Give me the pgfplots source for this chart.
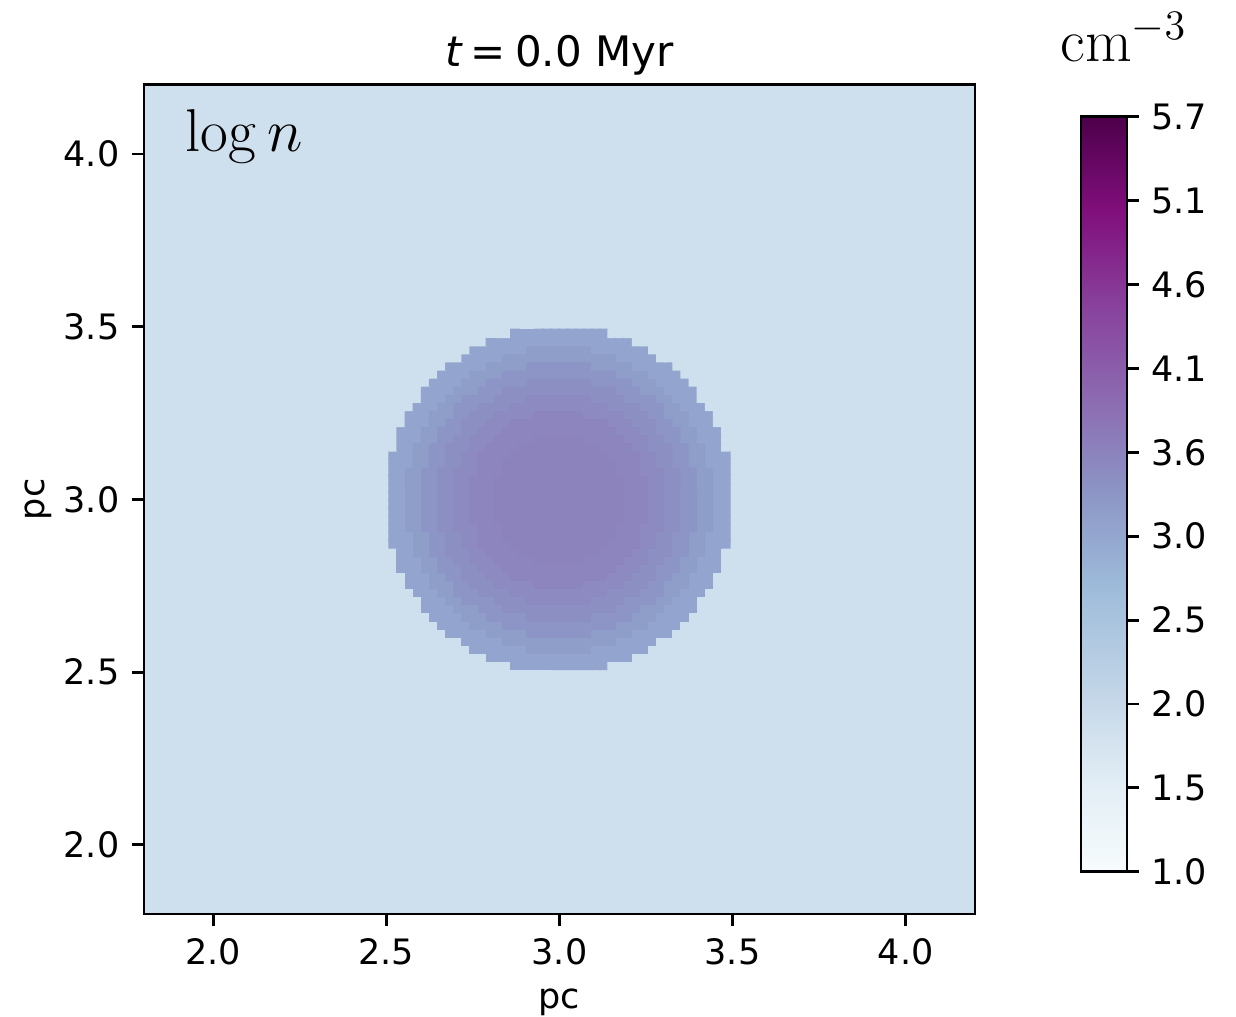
\documentclass[border=0pt]{standalone}
\usepackage[no-math]{fontspec}
\setmainfont{DejaVu Sans}
\usepackage{pgfplots}
\pgfplotsset{compat=1.18}
\begin{document}
\begin{tikzpicture}
\begin{axis}[
  name=main,
  scale only axis,
  width=237.4pt, height=236.9pt,
  xmin=1.8, xmax=4.2, ymin=1.8, ymax=4.2,
  enlargelimits=false,
  axis on top,
  axis line style={line width=0.8pt},
  tick style={line width=0.8pt, black},
  major tick length=3.5pt,
  tick align=outside,
  tick pos=left,
  xtick={2.0,2.5,3.0,3.5,4.0},
  xticklabels={2.0,2.5,3.0,3.5,4.0},
  ytick={2.0,2.5,3.0,3.5,4.0},
  yticklabels={2.0,2.5,3.0,3.5,4.0},
  xlabel={pc}, ylabel={pc},
  ylabel shift=-3.4pt,
  title={{\itshape t}\hspace{0.22em}=\hspace{0.22em}0.0 Myr},
  title style={font=\fontsize{12}{14}\selectfont, anchor=base, yshift=-0.9pt, inner sep=0pt},
  colormap={bupu}{rgb255=(247,252,253) rgb255=(224,236,244) rgb255=(191,211,230) rgb255=(158,188,218) rgb255=(140,150,198) rgb255=(140,107,177) rgb255=(136,65,157) rgb255=(129,15,124) rgb255=(77,0,75)},
  point meta min=1.0, point meta max=5.7,
  colorbar,
  colorbar style={
    scale only axis, width=13.14pt, height=215.7pt,
    at={(parent axis.north east)}, anchor=north west,
    colorbar shift/.style={xshift=30.29pt, yshift=-9.14pt},
    ytick={1.0,1.52222,2.04444,2.56667,3.08889,3.61111,4.13333,4.65556,5.17778,5.7},
    yticklabels={1.0,1.5,2.0,2.5,3.0,3.6,4.1,4.6,5.1,5.7},
    ytick pos=right, yticklabel pos=right,
    tick align=outside, major tick length=3.5pt,
    tick style={line width=0.8pt, black},
    axis line style={line width=0.8pt},
  },
]
\addplot[matrix plot*, mesh/cols=2, point meta=explicit] coordinates {(2.4,2.4) [1.9] (3.6,2.4) [1.9] (2.4,3.6) [1.9] (3.6,3.6) [1.9]};
\addplot[matrix plot*, mesh/cols=42, point meta=explicit] table[header=false, row sep=\\, meta index=0,
  x expr={3+(\coordindex-42*floor((\coordindex+0.5)/42)-20.5)*0.0234375},
  y expr={3+(floor((\coordindex+0.5)/42)-20.5)*0.0234375}] {
1.9\\ 1.9\\ 1.9\\ 1.9\\ 1.9\\ 1.9\\ 1.9\\ 1.9\\ 1.9\\ 1.9\\ 1.9\\ 1.9\\ 1.9\\ 1.9\\ 1.9\\
3.12\\ 3.12\\ 3.12\\ 3.12\\ 3.12\\ 3.12\\ 3.12\\ 3.12\\ 3.12\\ 3.12\\ 3.12\\ 3.12\\
1.9\\ 1.9\\ 1.9\\ 1.9\\ 1.9\\ 1.9\\ 1.9\\ 1.9\\ 1.9\\ 1.9\\ 1.9\\ 1.9\\ 1.9\\ 1.9\\ 1.9\\
1.9\\ 1.9\\ 1.9\\ 1.9\\ 1.9\\ 1.9\\ 1.9\\ 1.9\\ 1.9\\ 1.9\\ 1.9\\ 1.9\\
3.12\\ 3.12\\ 3.12\\ 3.12\\ 3.12\\ 3.12\\ 3.12\\ 3.12\\ 3.12\\ 3.12\\ 3.12\\ 3.12\\ 3.12\\ 3.12\\ 3.12\\ 3.12\\ 3.12\\ 3.12\\
1.9\\ 1.9\\ 1.9\\ 1.9\\ 1.9\\ 1.9\\ 1.9\\ 1.9\\ 1.9\\ 1.9\\ 1.9\\ 1.9\\
1.9\\ 1.9\\ 1.9\\ 1.9\\ 1.9\\ 1.9\\ 1.9\\ 1.9\\ 1.9\\ 1.9\\
3.12\\ 3.12\\ 3.12\\ 3.12\\ 3.12\\ 3.12\\ 3.12\\
3.25\\ 3.25\\ 3.25\\ 3.25\\ 3.25\\ 3.25\\ 3.25\\ 3.25\\
3.12\\ 3.12\\ 3.12\\ 3.12\\ 3.12\\ 3.12\\ 3.12\\
1.9\\ 1.9\\ 1.9\\ 1.9\\ 1.9\\ 1.9\\ 1.9\\ 1.9\\ 1.9\\ 1.9\\
1.9\\ 1.9\\ 1.9\\ 1.9\\ 1.9\\ 1.9\\ 1.9\\ 1.9\\ 1.9\\
3.12\\ 3.12\\ 3.12\\ 3.12\\ 3.12\\
3.25\\ 3.25\\ 3.25\\ 3.25\\ 3.25\\ 3.25\\ 3.25\\ 3.25\\ 3.25\\ 3.25\\ 3.25\\ 3.25\\ 3.25\\ 3.25\\
3.12\\ 3.12\\ 3.12\\ 3.12\\ 3.12\\
1.9\\ 1.9\\ 1.9\\ 1.9\\ 1.9\\ 1.9\\ 1.9\\ 1.9\\ 1.9\\
1.9\\ 1.9\\ 1.9\\ 1.9\\ 1.9\\ 1.9\\ 1.9\\
3.12\\ 3.12\\ 3.12\\ 3.12\\ 3.12\\
3.25\\ 3.25\\ 3.25\\ 3.25\\ 3.25\\
3.36\\ 3.36\\ 3.36\\ 3.36\\ 3.36\\ 3.36\\ 3.36\\ 3.36\\
3.25\\ 3.25\\ 3.25\\ 3.25\\ 3.25\\
3.12\\ 3.12\\ 3.12\\ 3.12\\ 3.12\\
1.9\\ 1.9\\ 1.9\\ 1.9\\ 1.9\\ 1.9\\ 1.9\\
1.9\\ 1.9\\ 1.9\\ 1.9\\ 1.9\\ 1.9\\
3.12\\ 3.12\\ 3.12\\ 3.12\\
3.25\\ 3.25\\ 3.25\\ 3.25\\
3.36\\ 3.36\\ 3.36\\ 3.36\\ 3.36\\ 3.36\\ 3.36\\ 3.36\\ 3.36\\ 3.36\\ 3.36\\ 3.36\\ 3.36\\ 3.36\\
3.25\\ 3.25\\ 3.25\\ 3.25\\
3.12\\ 3.12\\ 3.12\\ 3.12\\
1.9\\ 1.9\\ 1.9\\ 1.9\\ 1.9\\ 1.9\\
1.9\\ 1.9\\ 1.9\\ 1.9\\ 1.9\\
3.12\\ 3.12\\ 3.12\\ 3.12\\
3.25\\ 3.25\\ 3.25\\
3.36\\ 3.36\\ 3.36\\ 3.36\\ 3.36\\
3.45\\ 3.45\\ 3.45\\ 3.45\\ 3.45\\ 3.45\\ 3.45\\ 3.45\\
3.36\\ 3.36\\ 3.36\\ 3.36\\ 3.36\\
3.25\\ 3.25\\ 3.25\\
3.12\\ 3.12\\ 3.12\\ 3.12\\
1.9\\ 1.9\\ 1.9\\ 1.9\\ 1.9\\
1.9\\ 1.9\\ 1.9\\ 1.9\\
3.12\\ 3.12\\ 3.12\\ 3.12\\
3.25\\ 3.25\\ 3.25\\
3.36\\ 3.36\\ 3.36\\
3.45\\ 3.45\\ 3.45\\ 3.45\\ 3.45\\ 3.45\\ 3.45\\ 3.45\\ 3.45\\ 3.45\\ 3.45\\ 3.45\\ 3.45\\ 3.45\\
3.36\\ 3.36\\ 3.36\\
3.25\\ 3.25\\ 3.25\\
3.12\\ 3.12\\ 3.12\\ 3.12\\
1.9\\ 1.9\\ 1.9\\ 1.9\\
1.9\\ 1.9\\ 1.9\\ 1.9\\
3.12\\ 3.12\\ 3.12\\
3.25\\ 3.25\\
3.36\\ 3.36\\ 3.36\\ 3.36\\
3.45\\ 3.45\\ 3.45\\ 3.45\\
3.52\\ 3.52\\ 3.52\\ 3.52\\ 3.52\\ 3.52\\ 3.52\\ 3.52\\
3.45\\ 3.45\\ 3.45\\ 3.45\\
3.36\\ 3.36\\ 3.36\\ 3.36\\
3.25\\ 3.25\\
3.12\\ 3.12\\ 3.12\\
1.9\\ 1.9\\ 1.9\\ 1.9\\
1.9\\ 1.9\\ 1.9\\
3.12\\ 3.12\\ 3.12\\
3.25\\ 3.25\\
3.36\\ 3.36\\ 3.36\\
3.45\\ 3.45\\ 3.45\\ 3.45\\
3.52\\ 3.52\\ 3.52\\ 3.52\\ 3.52\\ 3.52\\ 3.52\\ 3.52\\ 3.52\\ 3.52\\ 3.52\\ 3.52\\
3.45\\ 3.45\\ 3.45\\ 3.45\\
3.36\\ 3.36\\ 3.36\\
3.25\\ 3.25\\
3.12\\ 3.12\\ 3.12\\
1.9\\ 1.9\\ 1.9\\
1.9\\ 1.9\\
3.12\\ 3.12\\ 3.12\\
3.25\\ 3.25\\ 3.25\\
3.36\\ 3.36\\
3.45\\ 3.45\\ 3.45\\
3.52\\ 3.52\\ 3.52\\ 3.52\\ 3.52\\
3.58\\ 3.58\\ 3.58\\ 3.58\\ 3.58\\ 3.58\\
3.52\\ 3.52\\ 3.52\\ 3.52\\ 3.52\\
3.45\\ 3.45\\ 3.45\\
3.36\\ 3.36\\
3.25\\ 3.25\\ 3.25\\
3.12\\ 3.12\\ 3.12\\
1.9\\ 1.9\\
1.9\\ 1.9\\
3.12\\ 3.12\\ 3.12\\
3.25\\ 3.25\\
3.36\\ 3.36\\
3.45\\ 3.45\\ 3.45\\
3.52\\ 3.52\\ 3.52\\
3.58\\ 3.58\\ 3.58\\ 3.58\\ 3.58\\ 3.58\\ 3.58\\ 3.58\\ 3.58\\ 3.58\\ 3.58\\ 3.58\\
3.52\\ 3.52\\ 3.52\\
3.45\\ 3.45\\ 3.45\\
3.36\\ 3.36\\
3.25\\ 3.25\\
3.12\\ 3.12\\ 3.12\\
1.9\\ 1.9\\
1.9\\
3.12\\ 3.12\\ 3.12\\
3.25\\ 3.25\\
3.36\\ 3.36\\ 3.36\\
3.45\\ 3.45\\
3.52\\ 3.52\\ 3.52\\
3.58\\ 3.58\\ 3.58\\ 3.58\\ 3.58\\ 3.58\\ 3.58\\ 3.58\\ 3.58\\ 3.58\\ 3.58\\ 3.58\\ 3.58\\ 3.58\\
3.52\\ 3.52\\ 3.52\\
3.45\\ 3.45\\
3.36\\ 3.36\\ 3.36\\
3.25\\ 3.25\\
3.12\\ 3.12\\ 3.12\\
1.9\\
1.9\\
3.12\\ 3.12\\ 3.12\\
3.25\\ 3.25\\
3.36\\ 3.36\\
3.45\\ 3.45\\
3.52\\ 3.52\\ 3.52\\
3.58\\ 3.58\\ 3.58\\ 3.58\\ 3.58\\
3.62\\ 3.62\\ 3.62\\ 3.62\\ 3.62\\ 3.62\\
3.58\\ 3.58\\ 3.58\\ 3.58\\ 3.58\\
3.52\\ 3.52\\ 3.52\\
3.45\\ 3.45\\
3.36\\ 3.36\\
3.25\\ 3.25\\
3.12\\ 3.12\\ 3.12\\
1.9\\
1.9\\
3.12\\ 3.12\\
3.25\\ 3.25\\
3.36\\ 3.36\\
3.45\\ 3.45\\ 3.45\\
3.52\\ 3.52\\
3.58\\ 3.58\\ 3.58\\ 3.58\\
3.62\\ 3.62\\ 3.62\\ 3.62\\ 3.62\\ 3.62\\ 3.62\\ 3.62\\ 3.62\\ 3.62\\
3.58\\ 3.58\\ 3.58\\ 3.58\\
3.52\\ 3.52\\
3.45\\ 3.45\\ 3.45\\
3.36\\ 3.36\\
3.25\\ 3.25\\
3.12\\ 3.12\\
1.9\\
3.12\\ 3.12\\ 3.12\\
3.25\\ 3.25\\
3.36\\ 3.36\\
3.45\\ 3.45\\
3.52\\ 3.52\\
3.58\\ 3.58\\ 3.58\\ 3.58\\
3.62\\ 3.62\\ 3.62\\ 3.62\\ 3.62\\ 3.62\\ 3.62\\ 3.62\\ 3.62\\ 3.62\\ 3.62\\ 3.62\\
3.58\\ 3.58\\ 3.58\\ 3.58\\
3.52\\ 3.52\\
3.45\\ 3.45\\
3.36\\ 3.36\\
3.25\\ 3.25\\
3.12\\ 3.12\\ 3.12\\
3.12\\ 3.12\\ 3.12\\
3.25\\ 3.25\\
3.36\\ 3.36\\
3.45\\ 3.45\\
3.52\\ 3.52\\
3.58\\ 3.58\\ 3.58\\
3.62\\ 3.62\\ 3.62\\ 3.62\\ 3.62\\ 3.62\\ 3.62\\ 3.62\\ 3.62\\ 3.62\\ 3.62\\ 3.62\\ 3.62\\ 3.62\\
3.58\\ 3.58\\ 3.58\\
3.52\\ 3.52\\
3.45\\ 3.45\\
3.36\\ 3.36\\
3.25\\ 3.25\\
3.12\\ 3.12\\ 3.12\\
3.12\\ 3.12\\
3.25\\ 3.25\\
3.36\\ 3.36\\
3.45\\ 3.45\\
3.52\\ 3.52\\ 3.52\\
3.58\\ 3.58\\ 3.58\\
3.62\\ 3.62\\ 3.62\\ 3.62\\ 3.62\\ 3.62\\ 3.62\\ 3.62\\ 3.62\\ 3.62\\ 3.62\\ 3.62\\ 3.62\\ 3.62\\
3.58\\ 3.58\\ 3.58\\
3.52\\ 3.52\\ 3.52\\
3.45\\ 3.45\\
3.36\\ 3.36\\
3.25\\ 3.25\\
3.12\\ 3.12\\
3.12\\ 3.12\\
3.25\\ 3.25\\
3.36\\ 3.36\\
3.45\\ 3.45\\
3.52\\ 3.52\\
3.58\\ 3.58\\ 3.58\\
3.62\\ 3.62\\ 3.62\\ 3.62\\ 3.62\\ 3.62\\ 3.62\\ 3.62\\ 3.62\\ 3.62\\ 3.62\\ 3.62\\ 3.62\\ 3.62\\ 3.62\\ 3.62\\
3.58\\ 3.58\\ 3.58\\
3.52\\ 3.52\\
3.45\\ 3.45\\
3.36\\ 3.36\\
3.25\\ 3.25\\
3.12\\ 3.12\\
3.12\\ 3.12\\
3.25\\ 3.25\\
3.36\\ 3.36\\
3.45\\ 3.45\\
3.52\\ 3.52\\
3.58\\ 3.58\\ 3.58\\
3.62\\ 3.62\\ 3.62\\ 3.62\\ 3.62\\ 3.62\\ 3.62\\ 3.62\\ 3.62\\ 3.62\\ 3.62\\ 3.62\\ 3.62\\ 3.62\\ 3.62\\ 3.62\\
3.58\\ 3.58\\ 3.58\\
3.52\\ 3.52\\
3.45\\ 3.45\\
3.36\\ 3.36\\
3.25\\ 3.25\\
3.12\\ 3.12\\
3.12\\ 3.12\\
3.25\\ 3.25\\
3.36\\ 3.36\\
3.45\\ 3.45\\
3.52\\ 3.52\\
3.58\\ 3.58\\ 3.58\\
3.62\\ 3.62\\ 3.62\\ 3.62\\ 3.62\\ 3.62\\ 3.62\\ 3.62\\ 3.62\\ 3.62\\ 3.62\\ 3.62\\ 3.62\\ 3.62\\ 3.62\\ 3.62\\
3.58\\ 3.58\\ 3.58\\
3.52\\ 3.52\\
3.45\\ 3.45\\
3.36\\ 3.36\\
3.25\\ 3.25\\
3.12\\ 3.12\\
3.12\\ 3.12\\
3.25\\ 3.25\\
3.36\\ 3.36\\
3.45\\ 3.45\\
3.52\\ 3.52\\
3.58\\ 3.58\\ 3.58\\
3.62\\ 3.62\\ 3.62\\ 3.62\\ 3.62\\ 3.62\\ 3.62\\ 3.62\\ 3.62\\ 3.62\\ 3.62\\ 3.62\\ 3.62\\ 3.62\\ 3.62\\ 3.62\\
3.58\\ 3.58\\ 3.58\\
3.52\\ 3.52\\
3.45\\ 3.45\\
3.36\\ 3.36\\
3.25\\ 3.25\\
3.12\\ 3.12\\
3.12\\ 3.12\\
3.25\\ 3.25\\
3.36\\ 3.36\\
3.45\\ 3.45\\
3.52\\ 3.52\\
3.58\\ 3.58\\ 3.58\\
3.62\\ 3.62\\ 3.62\\ 3.62\\ 3.62\\ 3.62\\ 3.62\\ 3.62\\ 3.62\\ 3.62\\ 3.62\\ 3.62\\ 3.62\\ 3.62\\ 3.62\\ 3.62\\
3.58\\ 3.58\\ 3.58\\
3.52\\ 3.52\\
3.45\\ 3.45\\
3.36\\ 3.36\\
3.25\\ 3.25\\
3.12\\ 3.12\\
3.12\\ 3.12\\
3.25\\ 3.25\\
3.36\\ 3.36\\
3.45\\ 3.45\\
3.52\\ 3.52\\
3.58\\ 3.58\\ 3.58\\
3.62\\ 3.62\\ 3.62\\ 3.62\\ 3.62\\ 3.62\\ 3.62\\ 3.62\\ 3.62\\ 3.62\\ 3.62\\ 3.62\\ 3.62\\ 3.62\\ 3.62\\ 3.62\\
3.58\\ 3.58\\ 3.58\\
3.52\\ 3.52\\
3.45\\ 3.45\\
3.36\\ 3.36\\
3.25\\ 3.25\\
3.12\\ 3.12\\
3.12\\ 3.12\\
3.25\\ 3.25\\
3.36\\ 3.36\\
3.45\\ 3.45\\
3.52\\ 3.52\\ 3.52\\
3.58\\ 3.58\\ 3.58\\
3.62\\ 3.62\\ 3.62\\ 3.62\\ 3.62\\ 3.62\\ 3.62\\ 3.62\\ 3.62\\ 3.62\\ 3.62\\ 3.62\\ 3.62\\ 3.62\\
3.58\\ 3.58\\ 3.58\\
3.52\\ 3.52\\ 3.52\\
3.45\\ 3.45\\
3.36\\ 3.36\\
3.25\\ 3.25\\
3.12\\ 3.12\\
3.12\\ 3.12\\ 3.12\\
3.25\\ 3.25\\
3.36\\ 3.36\\
3.45\\ 3.45\\
3.52\\ 3.52\\
3.58\\ 3.58\\ 3.58\\
3.62\\ 3.62\\ 3.62\\ 3.62\\ 3.62\\ 3.62\\ 3.62\\ 3.62\\ 3.62\\ 3.62\\ 3.62\\ 3.62\\ 3.62\\ 3.62\\
3.58\\ 3.58\\ 3.58\\
3.52\\ 3.52\\
3.45\\ 3.45\\
3.36\\ 3.36\\
3.25\\ 3.25\\
3.12\\ 3.12\\ 3.12\\
3.12\\ 3.12\\ 3.12\\
3.25\\ 3.25\\
3.36\\ 3.36\\
3.45\\ 3.45\\
3.52\\ 3.52\\
3.58\\ 3.58\\ 3.58\\ 3.58\\
3.62\\ 3.62\\ 3.62\\ 3.62\\ 3.62\\ 3.62\\ 3.62\\ 3.62\\ 3.62\\ 3.62\\ 3.62\\ 3.62\\
3.58\\ 3.58\\ 3.58\\ 3.58\\
3.52\\ 3.52\\
3.45\\ 3.45\\
3.36\\ 3.36\\
3.25\\ 3.25\\
3.12\\ 3.12\\ 3.12\\
1.9\\
3.12\\ 3.12\\
3.25\\ 3.25\\
3.36\\ 3.36\\
3.45\\ 3.45\\ 3.45\\
3.52\\ 3.52\\
3.58\\ 3.58\\ 3.58\\ 3.58\\
3.62\\ 3.62\\ 3.62\\ 3.62\\ 3.62\\ 3.62\\ 3.62\\ 3.62\\ 3.62\\ 3.62\\
3.58\\ 3.58\\ 3.58\\ 3.58\\
3.52\\ 3.52\\
3.45\\ 3.45\\ 3.45\\
3.36\\ 3.36\\
3.25\\ 3.25\\
3.12\\ 3.12\\
1.9\\
1.9\\
3.12\\ 3.12\\ 3.12\\
3.25\\ 3.25\\
3.36\\ 3.36\\
3.45\\ 3.45\\
3.52\\ 3.52\\ 3.52\\
3.58\\ 3.58\\ 3.58\\ 3.58\\ 3.58\\
3.62\\ 3.62\\ 3.62\\ 3.62\\ 3.62\\ 3.62\\
3.58\\ 3.58\\ 3.58\\ 3.58\\ 3.58\\
3.52\\ 3.52\\ 3.52\\
3.45\\ 3.45\\
3.36\\ 3.36\\
3.25\\ 3.25\\
3.12\\ 3.12\\ 3.12\\
1.9\\
1.9\\
3.12\\ 3.12\\ 3.12\\
3.25\\ 3.25\\
3.36\\ 3.36\\ 3.36\\
3.45\\ 3.45\\
3.52\\ 3.52\\ 3.52\\
3.58\\ 3.58\\ 3.58\\ 3.58\\ 3.58\\ 3.58\\ 3.58\\ 3.58\\ 3.58\\ 3.58\\ 3.58\\ 3.58\\ 3.58\\ 3.58\\
3.52\\ 3.52\\ 3.52\\
3.45\\ 3.45\\
3.36\\ 3.36\\ 3.36\\
3.25\\ 3.25\\
3.12\\ 3.12\\ 3.12\\
1.9\\
1.9\\ 1.9\\
3.12\\ 3.12\\ 3.12\\
3.25\\ 3.25\\
3.36\\ 3.36\\
3.45\\ 3.45\\ 3.45\\
3.52\\ 3.52\\ 3.52\\
3.58\\ 3.58\\ 3.58\\ 3.58\\ 3.58\\ 3.58\\ 3.58\\ 3.58\\ 3.58\\ 3.58\\ 3.58\\ 3.58\\
3.52\\ 3.52\\ 3.52\\
3.45\\ 3.45\\ 3.45\\
3.36\\ 3.36\\
3.25\\ 3.25\\
3.12\\ 3.12\\ 3.12\\
1.9\\ 1.9\\
1.9\\ 1.9\\
3.12\\ 3.12\\ 3.12\\
3.25\\ 3.25\\ 3.25\\
3.36\\ 3.36\\
3.45\\ 3.45\\ 3.45\\
3.52\\ 3.52\\ 3.52\\ 3.52\\ 3.52\\
3.58\\ 3.58\\ 3.58\\ 3.58\\ 3.58\\ 3.58\\
3.52\\ 3.52\\ 3.52\\ 3.52\\ 3.52\\
3.45\\ 3.45\\ 3.45\\
3.36\\ 3.36\\
3.25\\ 3.25\\ 3.25\\
3.12\\ 3.12\\ 3.12\\
1.9\\ 1.9\\
1.9\\ 1.9\\ 1.9\\
3.12\\ 3.12\\ 3.12\\
3.25\\ 3.25\\
3.36\\ 3.36\\ 3.36\\
3.45\\ 3.45\\ 3.45\\ 3.45\\
3.52\\ 3.52\\ 3.52\\ 3.52\\ 3.52\\ 3.52\\ 3.52\\ 3.52\\ 3.52\\ 3.52\\ 3.52\\ 3.52\\
3.45\\ 3.45\\ 3.45\\ 3.45\\
3.36\\ 3.36\\ 3.36\\
3.25\\ 3.25\\
3.12\\ 3.12\\ 3.12\\
1.9\\ 1.9\\ 1.9\\
1.9\\ 1.9\\ 1.9\\ 1.9\\
3.12\\ 3.12\\ 3.12\\
3.25\\ 3.25\\
3.36\\ 3.36\\ 3.36\\ 3.36\\
3.45\\ 3.45\\ 3.45\\ 3.45\\
3.52\\ 3.52\\ 3.52\\ 3.52\\ 3.52\\ 3.52\\ 3.52\\ 3.52\\
3.45\\ 3.45\\ 3.45\\ 3.45\\
3.36\\ 3.36\\ 3.36\\ 3.36\\
3.25\\ 3.25\\
3.12\\ 3.12\\ 3.12\\
1.9\\ 1.9\\ 1.9\\ 1.9\\
1.9\\ 1.9\\ 1.9\\ 1.9\\
3.12\\ 3.12\\ 3.12\\ 3.12\\
3.25\\ 3.25\\ 3.25\\
3.36\\ 3.36\\ 3.36\\
3.45\\ 3.45\\ 3.45\\ 3.45\\ 3.45\\ 3.45\\ 3.45\\ 3.45\\ 3.45\\ 3.45\\ 3.45\\ 3.45\\ 3.45\\ 3.45\\
3.36\\ 3.36\\ 3.36\\
3.25\\ 3.25\\ 3.25\\
3.12\\ 3.12\\ 3.12\\ 3.12\\
1.9\\ 1.9\\ 1.9\\ 1.9\\
1.9\\ 1.9\\ 1.9\\ 1.9\\ 1.9\\
3.12\\ 3.12\\ 3.12\\ 3.12\\
3.25\\ 3.25\\ 3.25\\
3.36\\ 3.36\\ 3.36\\ 3.36\\ 3.36\\
3.45\\ 3.45\\ 3.45\\ 3.45\\ 3.45\\ 3.45\\ 3.45\\ 3.45\\
3.36\\ 3.36\\ 3.36\\ 3.36\\ 3.36\\
3.25\\ 3.25\\ 3.25\\
3.12\\ 3.12\\ 3.12\\ 3.12\\
1.9\\ 1.9\\ 1.9\\ 1.9\\ 1.9\\
1.9\\ 1.9\\ 1.9\\ 1.9\\ 1.9\\ 1.9\\
3.12\\ 3.12\\ 3.12\\ 3.12\\
3.25\\ 3.25\\ 3.25\\ 3.25\\
3.36\\ 3.36\\ 3.36\\ 3.36\\ 3.36\\ 3.36\\ 3.36\\ 3.36\\ 3.36\\ 3.36\\ 3.36\\ 3.36\\ 3.36\\ 3.36\\
3.25\\ 3.25\\ 3.25\\ 3.25\\
3.12\\ 3.12\\ 3.12\\ 3.12\\
1.9\\ 1.9\\ 1.9\\ 1.9\\ 1.9\\ 1.9\\
1.9\\ 1.9\\ 1.9\\ 1.9\\ 1.9\\ 1.9\\ 1.9\\
3.12\\ 3.12\\ 3.12\\ 3.12\\ 3.12\\
3.25\\ 3.25\\ 3.25\\ 3.25\\ 3.25\\
3.36\\ 3.36\\ 3.36\\ 3.36\\ 3.36\\ 3.36\\ 3.36\\ 3.36\\
3.25\\ 3.25\\ 3.25\\ 3.25\\ 3.25\\
3.12\\ 3.12\\ 3.12\\ 3.12\\ 3.12\\
1.9\\ 1.9\\ 1.9\\ 1.9\\ 1.9\\ 1.9\\ 1.9\\
1.9\\ 1.9\\ 1.9\\ 1.9\\ 1.9\\ 1.9\\ 1.9\\ 1.9\\ 1.9\\
3.12\\ 3.12\\ 3.12\\ 3.12\\ 3.12\\
3.25\\ 3.25\\ 3.25\\ 3.25\\ 3.25\\ 3.25\\ 3.25\\ 3.25\\ 3.25\\ 3.25\\ 3.25\\ 3.25\\ 3.25\\ 3.25\\
3.12\\ 3.12\\ 3.12\\ 3.12\\ 3.12\\
1.9\\ 1.9\\ 1.9\\ 1.9\\ 1.9\\ 1.9\\ 1.9\\ 1.9\\ 1.9\\
1.9\\ 1.9\\ 1.9\\ 1.9\\ 1.9\\ 1.9\\ 1.9\\ 1.9\\ 1.9\\ 1.9\\
3.12\\ 3.12\\ 3.12\\ 3.12\\ 3.12\\ 3.12\\ 3.12\\
3.25\\ 3.25\\ 3.25\\ 3.25\\ 3.25\\ 3.25\\ 3.25\\ 3.25\\
3.12\\ 3.12\\ 3.12\\ 3.12\\ 3.12\\ 3.12\\ 3.12\\
1.9\\ 1.9\\ 1.9\\ 1.9\\ 1.9\\ 1.9\\ 1.9\\ 1.9\\ 1.9\\ 1.9\\
1.9\\ 1.9\\ 1.9\\ 1.9\\ 1.9\\ 1.9\\ 1.9\\ 1.9\\ 1.9\\ 1.9\\ 1.9\\ 1.9\\
3.12\\ 3.12\\ 3.12\\ 3.12\\ 3.12\\ 3.12\\ 3.12\\ 3.12\\ 3.12\\ 3.12\\ 3.12\\ 3.12\\ 3.12\\ 3.12\\ 3.12\\ 3.12\\ 3.12\\ 3.12\\
1.9\\ 1.9\\ 1.9\\ 1.9\\ 1.9\\ 1.9\\ 1.9\\ 1.9\\ 1.9\\ 1.9\\ 1.9\\ 1.9\\
1.9\\ 1.9\\ 1.9\\ 1.9\\ 1.9\\ 1.9\\ 1.9\\ 1.9\\ 1.9\\ 1.9\\ 1.9\\ 1.9\\ 1.9\\ 1.9\\ 1.9\\
3.12\\ 3.12\\ 3.12\\ 3.12\\ 3.12\\ 3.12\\ 3.12\\ 3.12\\ 3.12\\ 3.12\\ 3.12\\ 3.12\\
1.9\\ 1.9\\ 1.9\\ 1.9\\ 1.9\\ 1.9\\ 1.9\\ 1.9\\ 1.9\\ 1.9\\ 1.9\\ 1.9\\ 1.9\\ 1.9\\ 1.9\\
};
\node[anchor=base west, inner sep=0pt, xshift=11.7pt, yshift=-19.06pt, font=\fontsize{16.9}{20}\selectfont] at (rel axis cs:0,1) {$\log n$};
\end{axis}
\node[anchor=base west, inner sep=0pt, font=\fontsize{16.5}{20}\selectfont] at ([xshift=24.29pt,yshift=6.66pt]main.north east) {$\mathrm{cm}^{-3}$};
\pgfresetboundingbox
\useasboundingbox ([xshift=-41.14pt,yshift=-29.43pt]main.south west) rectangle ++(353.14pt,290.57pt);
\end{tikzpicture}
\end{document}
